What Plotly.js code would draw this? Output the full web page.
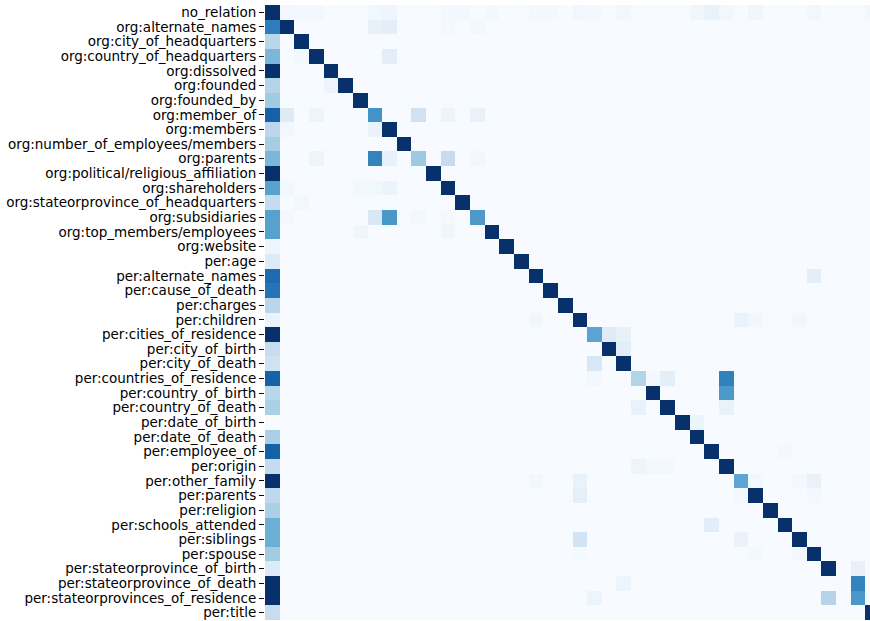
<!DOCTYPE html>
<html>
<head>
<meta charset="utf-8">
<script src="https://cdn.plot.ly/plotly-3.0.1.min.js"></script>
<style>html,body{margin:0;padding:0;background:#fff;overflow:hidden;}</style>
</head>
<body>
<div id="chart" style="width:870px;height:621px;"></div>
<script>
const labels = [
  "no_relation","org:alternate_names","org:city_of_headquarters","org:country_of_headquarters",
  "org:dissolved","org:founded","org:founded_by","org:member_of","org:members",
  "org:number_of_employees/members","org:parents","org:political/religious_affiliation",
  "org:shareholders","org:stateorprovince_of_headquarters","org:subsidiaries",
  "org:top_members/employees","org:website","per:age","per:alternate_names",
  "per:cause_of_death","per:charges","per:children","per:cities_of_residence",
  "per:city_of_birth","per:city_of_death","per:countries_of_residence","per:country_of_birth",
  "per:country_of_death","per:date_of_birth","per:date_of_death","per:employee_of",
  "per:origin","per:other_family","per:parents","per:religion","per:schools_attended",
  "per:siblings","per:spouse","per:stateorprovince_of_birth","per:stateorprovince_of_death",
  "per:stateorprovinces_of_residence","per:title"
];

// share predicted as the true relation (diagonal), per row
const diagonal = [1,1,1,1,1,1,1,0.62,1,1,0.375,1,1,1,0.59,1,1,1,1,1,1,1,0.55,1,1,0.31,1,1,1,1,1,1,0.54,1,1,1,1,1,1,0,0.6,1];

// share predicted as no_relation (first column), per row
const noRelationCol = [1,0.70,0.29,0.46,1,0.30,0.37,0.81,0.28,0.35,0.46,1,0.56,0.25,0.56,0.56,0.045,0.125,0.77,0.74,0.29,0.065,1,0.24,0.2,0.81,0.29,0.335,0,0.335,0.81,0.25,1,0.27,0.335,0.5,0.5,0.36,0.13,1,1,0.24];

// other confusions: [true row, predicted column, value]
const confusions = [
  [0,1,0.03],[0,2,0.025],[0,3,0.025],[0,7,0.035],[0,8,0.045],[0,12,0.02],[0,13,0.025],[0,15,0.02],
  [0,18,0.02],[0,19,0.02],[0,21,0.03],[0,22,0.02],[0,24,0.03],[0,29,0.04],[0,30,0.07],[0,31,0.03],
  [0,33,0.04],[0,37,0.03],[0,41,0.03],
  [1,7,0.075],[1,8,0.1],[1,12,0.02],[1,14,0.02],
  [3,2,0.02],[3,8,0.1],
  [5,4,0.05],
  [7,1,0.125],[7,3,0.05],[7,10,0.2],[7,12,0.05],[7,14,0.07],
  [8,1,0.03],[8,7,0.065],
  [10,3,0.05],[10,7,0.68],[10,8,0.075],[10,12,0.25],[10,14,0.03],
  [12,1,0.03],[12,6,0.035],[12,7,0.035],[12,8,0.06],
  [13,2,0.03],
  [14,1,0.02],[14,7,0.15],[14,8,0.6],[14,10,0.02],[14,12,0.025],
  [15,6,0.04],[15,12,0.04],
  [18,37,0.1],
  [21,18,0.03],[21,32,0.065],[21,33,0.03],[21,36,0.03],
  [22,23,0.12],[22,24,0.075],
  [23,24,0.11],
  [24,22,0.16],
  [25,22,0.02],[25,26,0.02],[25,27,0.1],[25,31,0.69],
  [26,31,0.59],
  [27,25,0.07],[27,31,0.07],
  [28,29,0.06],
  [30,35,0.02],
  [31,25,0.05],[31,26,0.02],[31,27,0.02],
  [32,18,0.03],[32,21,0.07],[32,33,0.03],[32,36,0.025],[32,37,0.07],
  [33,21,0.09],[33,32,0.025],[33,37,0.025],
  [35,30,0.11],
  [36,21,0.19],[36,32,0.065],
  [37,21,0.015],[37,33,0.025],[37,36,0.02],
  [38,40,0.075],
  [39,24,0.05],[39,40,0.68],
  [40,22,0.05],[40,38,0.3]
];

const n = labels.length;
const z = [];
for (let r = 0; r < n; r++) {
  const row = new Array(n).fill(0);
  row[0] = noRelationCol[r];
  if (r > 0) row[r] = diagonal[r];
  z.push(row);
}
confusions.forEach(([r, c, v]) => { z[r][c] = v; });

const blues = [
  [0, "#f7fbff"], [0.125, "#deebf7"], [0.25, "#c6dbef"], [0.375, "#9ecae1"],
  [0.5, "#6baed6"], [0.625, "#4292c6"], [0.75, "#2171b5"], [0.875, "#08519c"], [1, "#08306b"]
];

const xIdx = labels.map((_, i) => i);

Plotly.newPlot("chart", [{
  type: "heatmap",
  z: z,
  x: xIdx,
  y: labels,
  colorscale: blues,
  zmin: 0, zmax: 1,
  showscale: false,
  hoverongaps: false
}], {
  width: 870, height: 621,
  margin: {l: 265, r: 0, t: 5, b: 1, pad: 0},
  paper_bgcolor: "#fff", plot_bgcolor: "#fff",
  font: {family: "DejaVu Sans", size: 13.5, color: "#000"},
  xaxis: {range: [-0.5, 40.82], showticklabels: false, ticks: "", showgrid: false, zeroline: false, showline: false, fixedrange: true},
  yaxis: {type: "category", autorange: "reversed", tickmode: "array", tickvals: labels, ticktext: labels,
          ticks: "outside", ticklen: 5, tickwidth: 1, tickcolor: "#000",
          ticklabelstandoff: 0, showgrid: false, zeroline: false, showline: false,
          tickfont: {family: "DejaVu Sans", size: 13.5, color: "#000"}}
}, {displayModeBar: false, staticPlot: true});
</script>
</body>
</html>
